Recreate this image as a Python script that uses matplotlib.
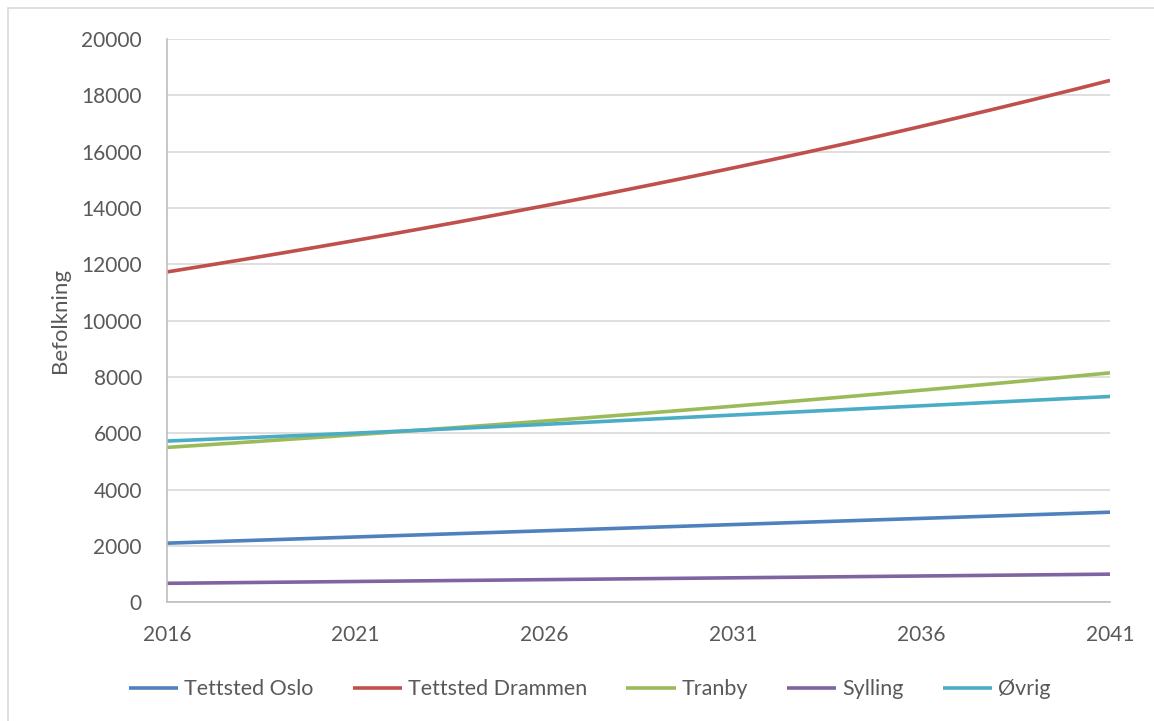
import matplotlib.pyplot as plt
from matplotlib.patches import Rectangle

years = list(range(2016, 2042))

oslo = [2100, 2144, 2188, 2232, 2276, 2320, 2364, 2408, 2452, 2496, 2540, 2584, 2628,
        2672, 2716, 2760, 2804, 2848, 2892, 2936, 2980, 3024, 3068, 3112, 3156, 3200]
drammen = [11730, 11946, 12166, 12390, 12618, 12850, 13086, 13327, 13572, 13822, 14076,
           14335, 14599, 14868, 15141, 15420, 15704, 15993, 16287, 16590, 16900, 17215,
           17535, 17860, 18190, 18530]
tranby = [5500, 5587, 5676, 5766, 5857, 5950, 6044, 6140, 6237, 6336, 6436, 6538, 6642,
          6747, 6854, 6962, 7073, 7185, 7298, 7414, 7531, 7651, 7772, 7895, 8020, 8147]
sylling = [675, 688, 701, 714, 727, 740, 753, 766, 779, 792, 805, 818, 831, 844, 857,
           870, 883, 896, 909, 922, 935, 948, 961, 974, 987, 1000]
ovrig = [5726, 5782, 5838, 5894, 5950, 6008, 6068, 6130, 6192, 6255, 6318, 6384, 6450,
         6516, 6582, 6648, 6714, 6780, 6846, 6912, 6978, 7044, 7110, 7176, 7242, 7308]

series = [
    ("Tettsted Oslo", oslo, "#4F81BD"),
    ("Tettsted Drammen", drammen, "#C0504D"),
    ("Tranby", tranby, "#9BBB59"),
    ("Sylling", sylling, "#8064A2"),
    ("Øvrig", ovrig, "#4BACC6"),
]

plt.rcParams['font.family'] = ['Lato', 'DejaVu Sans']
text_col = "#595959"

fig = plt.figure(figsize=(11.54, 7.21), dpi=100)
ax = fig.add_axes([0.1447, 0.1646, 0.8172, 0.7813])

for name, vals, col in series:
    ax.plot(years, vals, color=col, lw=2.6, label=name, solid_capstyle="butt")

ax.set_xlim(2016, 2041)
ax.set_ylim(0, 20000)
ax.set_xticks(range(2016, 2042, 5))
ax.set_yticks(range(0, 20001, 2000))
ax.grid(axis="y", color="#d9d9d9", lw=1.2)
ax.set_axisbelow(True)
for s in ["top", "right"]:
    ax.spines[s].set_visible(False)
for s in ["left", "bottom"]:
    ax.spines[s].set_color("#bfbfbf")
    ax.spines[s].set_linewidth(1.2)
ax.tick_params(length=0, labelsize=15, labelcolor=text_col)
ax.tick_params(axis="x", pad=16)
ax.tick_params(axis="y", pad=18)
ax.set_ylabel("Befolkning", fontsize=16, color=text_col, labelpad=8)

fig.legend(loc="center", bbox_to_anchor=(0.511, 0.044), ncol=5, frameon=False,
           fontsize=15.5, handlelength=2.3, columnspacing=1.8, handletextpad=0.28,
           labelcolor=text_col)

fig.patches.append(Rectangle((8 / 1154, -0.01), 1.0, 1 - 8 / 721 + 0.01,
                             transform=fig.transFigure, fill=False,
                             edgecolor="#d9d9d9", lw=1.2))

fig.savefig("out.png", dpi=100)
